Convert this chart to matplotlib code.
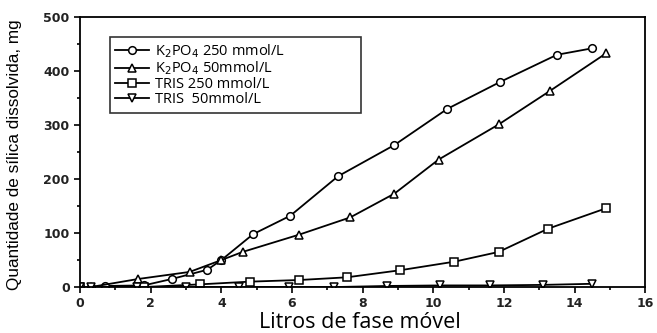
import numpy as np
import matplotlib
matplotlib.use('Agg')
from matplotlib import pyplot as plt
from matplotlib.ticker import MultipleLocator

# K2PO4 250 mmol/L (circles)
x_k250 = [0, 0.3, 0.7, 1.8, 2.6, 3.6, 4.0, 4.9, 5.95, 7.3, 8.9, 10.4, 11.9, 13.5, 14.5]
y_k250 = [0, 0, 2, 3, 15, 32, 50, 98, 132, 205, 263, 330, 380, 430, 442]

# K2PO4 50 mmol/L (triangles)
x_k50 = [0, 0.3, 1.65, 3.1, 4.0, 4.6, 6.2, 7.65, 8.9, 10.15, 11.85, 13.3, 14.9]
y_k50 = [0, 0, 15, 28, 50, 65, 97, 129, 173, 236, 301, 363, 433]

# TRIS 250 mmol/L (squares)
x_t250 = [0, 1.8, 3.4, 4.8, 6.2, 7.55, 9.05, 10.6, 11.85, 13.25, 14.9]
y_t250 = [0, 0, 5, 10, 13, 18, 31, 47, 65, 108, 146]

# TRIS 50 mmol/L (inverted triangles)
x_t50 = [0, 0.3, 1.6, 3.0, 4.5, 5.9, 7.2, 8.7, 10.2, 11.6, 13.1, 14.5]
y_t50 = [0, 0, 0, 0, 0, 0, 0, 2, 3, 3, 4, 6]

labels = ['K$_2$PO$_4$ 250 mmol/L', 'K$_2$PO$_4$ 50mmol/L',
          'TRIS 250 mmol/L', 'TRIS  50mmol/L']

def main():
    fig = plt.figure(figsize=(6.57, 3.33), dpi=100)
    ax = fig.add_axes([0.122, 0.138, 0.86, 0.811])

    kw = dict(color='black', lw=1.3, mfc='white', mec='black', mew=1.1, ms=5.5)
    ax.plot(x_k250, y_k250, marker='o', label=labels[0], **kw)
    ax.plot(x_k50, y_k50, marker='^', label=labels[1], **kw)
    ax.plot(x_t250, y_t250, marker='s', label=labels[2], **kw)
    ax.plot(x_t50, y_t50, marker='v', label=labels[3], **kw)

    ax.set_xlim(0, 16)
    ax.set_ylim(0, 500)
    ax.xaxis.set_major_locator(MultipleLocator(2))
    ax.xaxis.set_minor_locator(MultipleLocator(1))
    ax.yaxis.set_major_locator(MultipleLocator(100))
    ax.yaxis.set_minor_locator(MultipleLocator(50))
    ax.tick_params(which='both', direction='out', width=1.2, labelsize=9)
    ax.tick_params(which='major', length=4)
    ax.tick_params(which='minor', length=2)
    for lab in ax.get_xticklabels() + ax.get_yticklabels():
        lab.set_fontweight('bold')
        lab.set_color('#222222')
    for s in ax.spines.values():
        s.set_linewidth(1.3)

    fig.text(0.548, 0.0, 'Litros de fase móvel', fontsize=15.5,
             family=['Open Sans', 'DejaVu Sans'], ha='center', va='bottom')
    fig.text(0.022, 0.535, 'Quantidade de sílica dissolvida, mg', fontsize=12.3,
             family=['Liberation Sans', 'DejaVu Sans'], rotation=90,
             ha='center', va='center')

    leg = ax.legend(loc='upper left', bbox_to_anchor=(0.053, 0.926, 0.444, 0.0),
                    mode='expand',
                    prop={'family': ['Open Sans', 'DejaVu Sans'], 'size': 10.5},
                    frameon=True, fancybox=False, edgecolor='black',
                    handlelength=2.3, labelspacing=0.0, borderpad=0.35,
                    handletextpad=0.4, borderaxespad=0)
    leg.get_frame().set_linewidth(1.2)

    fig.savefig('out.png', dpi=100)

if __name__ == "__main__":
    main()
